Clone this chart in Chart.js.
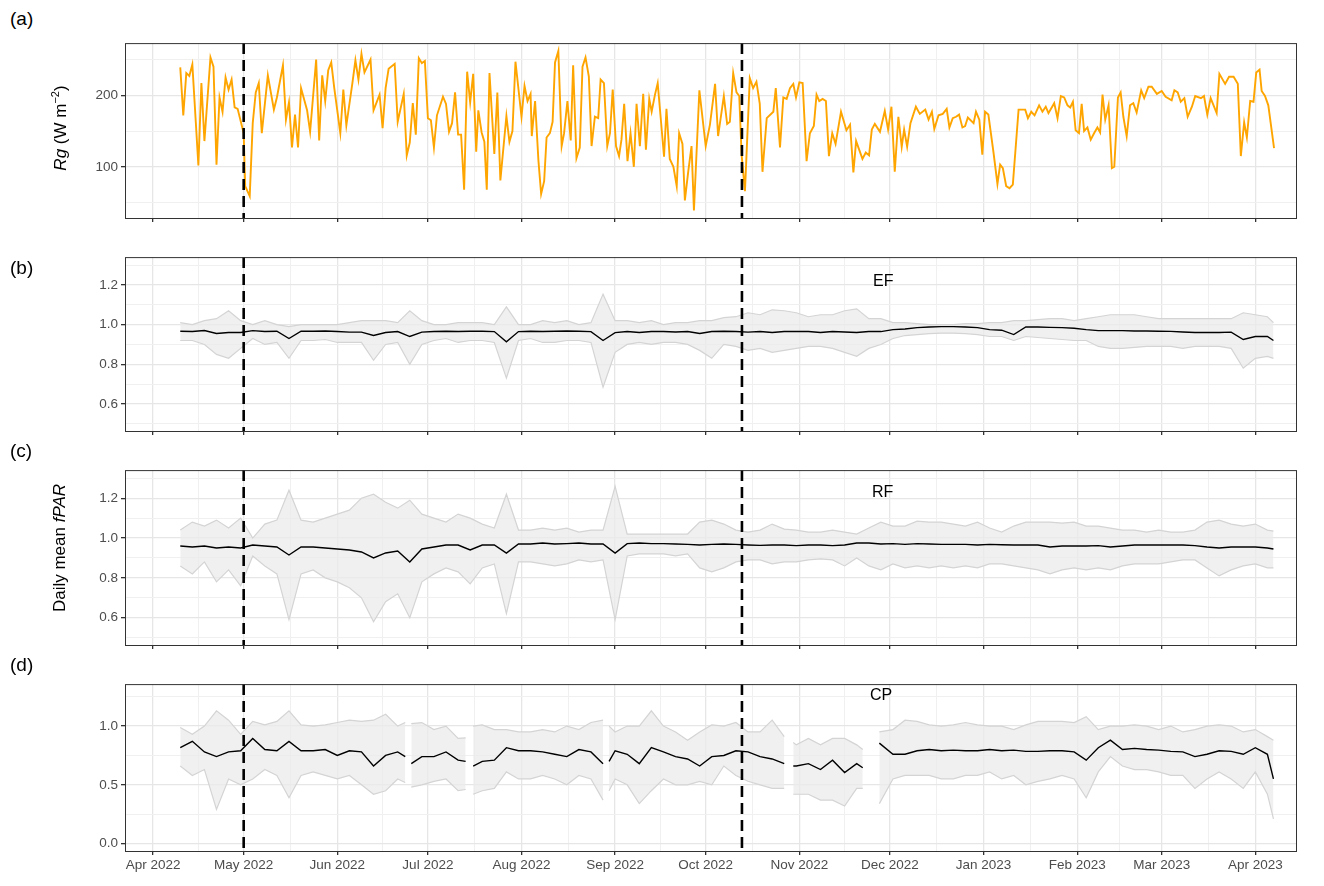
<!DOCTYPE html>
<html>
<head>
<meta charset="utf-8">
<script src="https://cdn.jsdelivr.net/npm/chart.js@4.4.0/dist/chart.umd.min.js"></script>
<style>
  body { margin: 0; background: #fff; font-family: "Liberation Sans", Arial, sans-serif; }
  #page { position: relative; width: 1324px; height: 886px; }
  .panel { position: absolute; left: 0; width: 1324px; }
  .tag { position: absolute; left: 10px; font-size: 19px; color: #000; }
  .site { position: absolute; font-size: 16px; color: #000; }
  .ytitle { position: absolute; font-size: 17px; color: #000; white-space: nowrap;
            transform: translate(-50%, -50%) rotate(-90deg); }
</style>
</head>
<body>
<div id="page">
  <div class="panel" id="pa" style="top:32px;height:211px"><canvas id="ca"></canvas></div>
  <div class="panel" id="pb" style="top:246px;height:210px"><canvas id="cb"></canvas></div>
  <div class="panel" id="pc" style="top:459px;height:211px"><canvas id="cc"></canvas></div>
  <div class="panel" id="pd" style="top:673px;height:213px"><canvas id="cd"></canvas></div>
  <div class="tag" style="top:8px">(a)</div>
  <div class="tag" style="top:257px">(b)</div>
  <div class="tag" style="top:440px">(c)</div>
  <div class="tag" style="top:654px">(d)</div>
  <div class="site" style="left:873px;top:272px">EF</div>
  <div class="site" style="left:872px;top:483px">RF</div>
  <div class="site" style="left:870px;top:686px">CP</div>
  <div class="ytitle" style="left:60px;top:128px"><i>Rg</i> (W m<sup style="font-size:11px">−2</sup>)</div>
  <div class="ytitle" style="left:60px;top:548px">Daily mean <i>fPAR</i></div>
</div>
<script>
// days counted from 1 Apr 2022
const monthDays = [0, 30, 61, 91, 122, 153, 183, 214, 244, 275, 306, 334, 365];
const monthLabels = ['Apr 2022', 'May 2022', 'Jun 2022', 'Jul 2022', 'Aug 2022', 'Sep 2022', 'Oct 2022',
    'Nov 2022', 'Dec 2022', 'Jan 2023', 'Feb 2023', 'Mar 2023', 'Apr 2023'];
const eventDays = [30, 195];

// (a) global radiation
const rgDay = [9, 10, 11, 12, 13, 15, 16, 17, 19, 20, 21, 22, 23, 24, 25, 26, 27, 28, 30, 30.5, 32, 33, 34, 35, 36, 38, 40, 41, 43, 44,
    45, 46, 47, 48, 49, 51, 52, 54, 55, 56, 57, 58, 59, 60, 62, 63, 64, 66, 67, 68, 69, 70, 72, 73, 75, 76, 77, 78, 80, 81,
    83, 84, 85, 86, 87, 88, 89, 90, 91, 92, 93, 94, 96, 97, 98, 99, 100, 101, 102, 103, 104, 105, 106, 107, 107.7, 108.8, 109.7, 110.5, 111.4, 113,
    114, 115, 117, 118, 119, 120, 122, 123, 124, 125, 125.4, 126.5, 127.6, 128.5, 129.5, 130.3, 131.4, 132.3, 133.1, 134.2, 135.3, 136.1, 137.2, 138.3, 139.1, 140.2, 141.3, 142.2, 143.2, 144.3,
    145.2, 146.3, 147.4, 148.2, 149.3, 150.4, 151.3, 152.2, 153.3, 154.3, 155.1, 156, 157.1, 158.1, 159.2, 160.1, 161.2, 162.3, 163.2, 164.3, 165.1, 166.2, 167.1, 169.2, 170, 171.1, 172.3, 173.4, 174.2, 175.3,
    176.1, 177.2, 178.3, 179.1, 180.9, 183, 184.4, 186.1, 187.1, 189, 190.1, 191, 192.1, 193.2, 194.1, 194.9, 196, 197.6, 198.7, 199.8, 200.9, 201.8, 203.2, 205.4, 206.2, 207.6, 208.7, 209.8, 210.9, 212,
    212.9, 214, 215.1, 216.4, 217.5, 218.8, 219.7, 220.6, 221.7, 222.8, 223.8, 224.9, 226, 227.8, 229.6, 230.8, 231.9, 232.8, 234.9, 236, 237.1, 238, 239, 240.7, 242.3, 243.4, 244.5, 245.6, 246.8, 247.9,
    248.7, 249.7, 250.8, 252.6, 253.9, 255.7, 256.8, 257.9, 258.7, 260.1, 261.5, 262.8, 263.7, 264.8, 265.9, 266.9, 268, 268.9, 269.8, 271.7, 272.5, 273.6, 274.6, 275.5, 276.6, 278.3, 279.6, 280.5, 281.4, 282.5,
    283.6, 284.7, 286.6, 288.8, 289.7, 290.8, 291.9, 293.4, 294.5, 295.6, 296.5, 298.4, 299.5, 300.6, 301.7, 302.8, 303.7, 304.6, 305.5, 306.6, 307.5, 308.3, 309.4, 310.5, 311.6, 312.7, 313.6, 314.4, 315.3, 316.4,
    317.5, 318.3, 319.5, 320.4, 321.3, 322.4, 323.5, 324.6, 325.7, 327.2, 328.2, 329.6, 330.7, 332.4, 334, 335.3, 337.3, 338.2, 339.3, 340.3, 341.5, 342.6, 344, 345.1, 347, 348, 349.1, 350.2, 352.2, 353.1,
    355, 356.3, 357.8, 359.2, 360.2, 361.3, 362.2, 363.3, 364.4, 365.3, 366.4, 367.1, 368.2, 369.3, 371.2];
const rgVal = [239, 172, 231, 227, 243, 102, 217, 136, 253, 240, 103, 197, 177, 225, 208, 222, 183, 181, 147, 73, 59, 161, 204, 217, 147, 228, 180, 197, 242, 166,
    190, 127, 173, 127, 210, 179, 149, 250, 137, 228, 192, 235, 246, 210, 147, 208, 158, 217, 249, 222, 258, 232, 250, 179, 201, 154, 210, 237, 244, 163,
    202, 116, 134, 189, 145, 252, 245, 248, 168, 165, 127, 172, 198, 188, 149, 161, 204, 145, 145, 68, 233, 190, 230, 121, 179, 148, 135, 68, 231, 118,
    204, 81, 171, 135, 150, 247, 170, 213, 192, 202, 143, 192, 109, 62, 80, 141, 147, 163, 246, 262, 129, 147, 192, 137, 242, 112, 127, 240, 253, 226,
    129, 170, 168, 222, 217, 129, 147, 208, 129, 115, 138, 188, 108, 147, 100, 188, 129, 202, 124, 195, 177, 201, 217, 114, 181, 111, 100, 73, 147, 132,
    53, 93, 129, 39, 207, 129, 159, 216, 143, 199, 160, 163, 231, 204, 199, 116, 66, 224, 210, 219, 188, 93, 168, 177, 210, 127, 197, 195, 210, 216,
    197, 218, 217, 108, 147, 157, 201, 192, 195, 192, 115, 147, 132, 177, 151, 159, 92, 136, 111, 120, 116, 152, 160, 149, 178, 152, 184, 93, 170, 128,
    152, 128, 161, 184, 174, 180, 166, 177, 153, 172, 174, 181, 155, 168, 170, 173, 155, 157, 169, 161, 177, 166, 117, 177, 173, 120, 76, 103, 98, 73,
    70, 75, 180, 180, 168, 177, 172, 186, 177, 184, 175, 189, 168, 199, 197, 186, 183, 191, 151, 147, 188, 150, 155, 138, 147, 155, 148, 201, 166, 186,
    98, 100, 197, 204, 170, 143, 186, 189, 176, 207, 196, 212, 212, 202, 206, 198, 193, 207, 204, 191, 196, 170, 184, 199, 196, 199, 173, 196, 175, 230,
    216, 226, 226, 216, 115, 162, 141, 192, 191, 232, 236, 206, 199, 186, 126];

// (b)-(c) daily mean fPAR with sensor spread
const gridDay = [9, 13, 17, 21, 25, 29, 33, 37, 41, 45, 49, 53, 57, 61, 65, 69, 73, 77, 81, 85, 89, 93, 97, 101, 105, 109, 113, 117, 121, 125,
    129, 133, 137, 141, 145, 149, 153, 157, 161, 165, 169, 173, 177, 181, 185, 189, 193, 197, 201, 205, 209, 213, 217, 221, 225, 229, 233, 237, 241, 245,
    249, 253, 257, 261, 265, 269, 273, 277, 281, 285, 289, 293, 297, 301, 305, 309, 313, 317, 321, 325, 329, 333, 337, 341, 345, 349, 353, 357, 361, 365,
    369, 371];

const efMean = [.967, .965, .97, .955, .96, .96, .97, .965, .967, .93, .967, .967, .968, .965, .962, .962, .945, .96, .965, .94, .962, .965, .967, .965, .967, .967, .965, .913, .965, .967,
    .965, .967, .968, .967, .965, .92, .96, .965, .96, .965, .965, .963, .965, .955, .965, .967, .965, .962, .965, .96, .965, .965, .965, .96, .965, .963, .96, .965, .965, .975,
    .978, .985, .988, .99, .99, .988, .985, .975, .972, .95, .988, .988, .986, .985, .982, .975, .97, .97, .97, .968, .968, .967, .966, .963, .96, .96, .96, .962, .925, .94,
    .94, .92];
const efLow = [.92, .92, .90, .85, .83, .88, .93, .90, .91, .83, .92, .92, .925, .91, .91, .91, .82, .90, .91, .80, .90, .92, .93, .91, .92, .92, .91, .73, .92, .93,
    .91, .91, .92, .92, .91, .684, .86, .90, .91, .90, .91, .91, .90, .87, .83, .90, .89, .87, .88, .86, .87, .88, .89, .89, .88, .86, .84, .88, .90, .93,
    .945, .95, .955, .957, .957, .955, .95, .94, .94, .92, .94, .935, .93, .925, .92, .92, .89, .88, .88, .885, .89, .89, .89, .88, .89, .89, .89, .88, .78, .83,
    .84, .83];
const efHigh = [1.01, 1.0, 1.02, 1.03, 1.07, 1.02, 1.0, 1.02, 1.0, .99, 1.0, 1.0, 1.0, 1.0, 1.01, 1.02, 1.02, 1.02, 1.01, 1.07, 1.02, 1.0, 1.0, 1.01, 1.01, 1.01, 1.0, 1.09, 1.0, 1.0,
    1.02, 1.01, 1.02, 1.0, 1.01, 1.154, 1.02, 1.02, 1.01, 1.02, 1.0, 1.01, 1.01, 1.02, 1.02, 1.035, 1.04, 1.06, 1.05, 1.075, 1.07, 1.06, 1.04, 1.05, 1.05, 1.07, 1.08, 1.03, 1.03, 1.01,
    1.01, 1.005, 1.0, 1.0, 1.0, 1.005, 1.005, 1.01, 1.01, 1.02, 1.02, 1.025, 1.03, 1.03, 1.02, 1.03, 1.04, 1.05, 1.05, 1.05, 1.04, 1.03, 1.03, 1.03, 1.03, 1.03, 1.03, 1.03, 1.06, 1.05,
    1.04, 1.01];

const rfMean = [.96, .955, .96, .95, .955, .95, .965, .96, .955, .915, .955, .955, .95, .945, .94, .93, .90, .925, .935, .88, .945, .955, .965, .965, .94, .965, .965, .924, .97, .97,
    .975, .97, .972, .975, .97, .97, .924, .972, .975, .972, .972, .97, .968, .965, .968, .97, .968, .965, .963, .965, .965, .962, .965, .965, .962, .965, .975, .975, .97, .972,
    .968, .972, .97, .968, .968, .968, .965, .968, .966, .965, .965, .965, .955, .96, .96, .96, .962, .955, .96, .965, .965, .965, .965, .965, .962, .955, .95, .955, .955, .955,
    .95, .945];
const rfLow = [.86, .82, .88, .78, .84, .76, .91, .86, .82, .59, .82, .84, .80, .78, .75, .70, .58, .68, .72, .60, .78, .82, .85, .83, .77, .85, .87, .62, .88, .88,
    .87, .86, .87, .89, .88, .89, .59, .91, .92, .92, .92, .91, .92, .85, .83, .85, .88, .89, .89, .87, .88, .88, .89, .895, .89, .86, .90, .86, .84, .87,
    .85, .86, .85, .86, .85, .86, .85, .87, .87, .86, .85, .84, .82, .84, .85, .84, .85, .84, .86, .87, .87, .87, .88, .89, .89, .85, .81, .84, .86, .87,
    .85, .85];
const rfHigh = [1.04, 1.08, 1.06, 1.09, 1.05, 1.10, 1.0, 1.07, 1.09, 1.24, 1.09, 1.08, 1.10, 1.12, 1.14, 1.20, 1.22, 1.18, 1.15, 1.19, 1.12, 1.10, 1.08, 1.12, 1.10, 1.07, 1.05, 1.22, 1.04, 1.04,
    1.05, 1.04, 1.05, 1.03, 1.04, 1.04, 1.26, 1.02, 1.02, 1.02, 1.02, 1.02, 1.02, 1.08, 1.09, 1.07, 1.04, 1.03, 1.04, 1.07, 1.045, 1.04, 1.03, 1.03, 1.04, 1.03, 1.02, 1.05, 1.08, 1.06,
    1.06, 1.085, 1.08, 1.08, 1.07, 1.06, 1.08, 1.05, 1.03, 1.06, 1.08, 1.08, 1.08, 1.075, 1.08, 1.06, 1.06, 1.05, 1.04, 1.04, 1.03, 1.04, 1.03, 1.03, 1.04, 1.08, 1.09, 1.07, 1.06, 1.07,
    1.04, 1.035];

// (d) CP, with gaps in the record (null = missing day)
const cpDay = [9, 13, 17, 21, 25, 29, 33, 37, 41, 45, 49, 53, 57, 61, 65, 69, 73, 77, 81, 83.5, 84.5, 85.5, 89, 93, 97, 101, 103.5, 104.8, 106, 109,
    113, 117, 121, 125, 129, 133, 137, 141, 145, 149, 150.3, 151, 153, 157, 161, 165, 169, 173, 177, 181, 185, 189, 193, 197, 201, 205, 209, 210.5, 212, 213,
    217, 221, 225, 229, 233, 235, 237.5, 240.5, 245, 249, 253, 257, 261, 265, 269, 273, 277, 281, 285, 289, 293, 297, 301, 305, 309, 313, 317, 321, 325, 329,
    333, 337, 341, 345, 349, 353, 357, 361, 365, 369, 371];
const cpMean = [.816, .87, .78, .74, .78, .79, .895, .80, .79, .87, .79, .79, .80, .75, .79, .78, .66, .75, .78, .74, null, .68, .74, .74, .78, .71, .70, null, .66, .70,
    .71, .816, .79, .79, .78, .76, .74, .80, .78, .68, null, .70, .79, .76, .68, .816, .78, .74, .72, .66, .74, .75, .79, .78, .74, .72, .68, null, .66, .66,
    .68, .63, .71, .605, .68, .645, null, .855, .76, .76, .79, .80, .79, .795, .79, .79, .80, .79, .795, .785, .785, .79, .79, .78, .71, .816, .88, .80, .81, .80,
    .795, .785, .78, .74, .76, .79, .785, .76, .816, .76, .55];
const cpLow = [.66, .58, .63, .29, .55, .50, .55, .63, .58, .39, .58, .61, .58, .55, .58, .50, .42, .45, .55, .52, null, .48, .50, .53, .55, .45, .46, null, .42, .45,
    .47, .61, .55, .55, .58, .55, .50, .58, .55, .37, null, .45, .55, .50, .34, .45, .55, .50, .50, .53, .50, .66, .58, .53, .50, .47, .47, null, .42, .42,
    .42, .37, .37, .32, .47, .47, null, .34, .55, .58, .58, .58, .55, .55, .58, .58, .61, .55, .58, .50, .53, .55, .58, .55, .39, .61, .74, .66, .63, .63,
    .61, .58, .58, .47, .55, .61, .55, .47, .61, .42, .21];
const cpHigh = [.987, .93, 1.0, 1.13, 1.05, .93, 1.04, 1.01, 1.04, 1.13, 1.01, 1.0, 1.01, 1.03, 1.05, 1.04, 1.05, 1.1, 1.0, 1.03, null, 1.02, 1.03, .97, 1.0, .895, .90, null, 1.0, 1.01,
    .97, .97, .95, .95, .97, .95, 1.0, .97, 1.03, 1.05, null, 1.0, .95, 1.0, 1.0, 1.13, 1.0, .95, .88, .95, 1.01, 1.0, 1.03, .95, .95, 1.05, .91, null, .86, .84,
    .895, .84, .895, .895, .84, .80, null, .95, .97, 1.05, 1.04, 1.01, 1.0, 1.01, 1.03, 1.01, 1.0, 1.0, .97, 1.01, 1.04, 1.04, 1.04, 1.03, 1.08, .97, 1.0, 1.0, 1.01, 1.0,
    .97, 1.0, .95, .97, 1.0, 1.01, 1.0, .95, .97, .91, .88];

const rgTicks = [50, 100, 150, 200, 250];
const rgLabels = [100, 200];
const fparTicks = [0.5, 0.6, 0.7, 0.8, 0.9, 1.0, 1.1, 1.2, 1.3];
const fparLabels = [0.6, 0.8, 1.0, 1.2];
const cpTicks = [0, 0.25, 0.5, 0.75, 1.0, 1.25];
const cpLabels = [0, 0.5, 1.0];

const pts = (xs, ys) => xs.map((x, i) => ({ x: x, y: ys[i] }));
const near = (v, list) => list.some(l => Math.abs(l - v) < 1e-6);

const xTicks = [];
monthDays.forEach((d, i) => {
    xTicks.push(d);
    if (i < monthDays.length - 1) xTicks.push((d + monthDays[i + 1]) / 2);
});

const framePlugin = {
    id: 'frame',
    afterDatasetsDraw(chart) {
        const { ctx, chartArea: a, scales: { x } } = chart;
        ctx.save();
        ctx.beginPath();
        ctx.rect(a.left, a.top, a.right - a.left, a.bottom - a.top);
        ctx.clip();
        ctx.strokeStyle = '#000';
        ctx.lineWidth = 2.6;
        ctx.setLineDash([11, 6]);
        eventDays.forEach(d => {
            const px = x.getPixelForValue(d);
            ctx.beginPath();
            ctx.moveTo(px, a.top);
            ctx.lineTo(px, a.bottom);
            ctx.stroke();
        });
        ctx.restore();
        ctx.save();
        ctx.strokeStyle = '#333';
        ctx.lineWidth = 1;
        ctx.strokeRect(a.left + 0.5, a.top + 0.5, a.right - a.left - 1, a.bottom - a.top);
        ctx.restore();
    }
};

function makePanel(id, datasets, ymin, ymax, yTicks, yLabels, yFmt, showX) {
    const majorX = v => near(v, monthDays);
    return new Chart(document.getElementById(id), {
        type: 'line',
        data: { datasets: datasets },
        plugins: [framePlugin],
        options: {
            responsive: true,
            maintainAspectRatio: false,
            animation: false,
            layout: { padding: { top: 5, right: 27, left: 0, bottom: 0 } },
            plugins: { legend: { display: false }, tooltip: { enabled: false } },
            elements: { point: { radius: 0 } },
            scales: {
                x: {
                    type: 'linear', min: -9.3, max: 378.8,
                    afterBuildTicks: s => { s.ticks = xTicks.map(v => ({ value: v })); },
                    afterFit: s => { s.height = showX ? 35 : 25; },
                    border: { display: false },
                    grid: {
                        color: c => majorX(c.tick.value) ? '#E6E6E6' : '#F0F0F0',
                        lineWidth: c => majorX(c.tick.value) ? 1.3 : 1,
                        tickColor: c => majorX(c.tick.value) ? '#333' : 'rgba(0,0,0,0)',
                        tickLength: 4
                    },
                    ticks: {
                        autoSkip: false, maxRotation: 0, padding: 2,
                        color: '#4D4D4D', font: { family: 'Liberation Sans', size: 13.5 },
                        callback: v => {
                            const i = monthDays.findIndex(d => Math.abs(d - v) < 1e-6);
                            return (showX && i >= 0) ? monthLabels[i] : '';
                        }
                    }
                },
                y: {
                    min: ymin, max: ymax,
                    afterBuildTicks: s => { s.ticks = yTicks.map(v => ({ value: v })); },
                    afterFit: s => { s.width = 125; },
                    border: { display: false },
                    grid: {
                        color: c => near(c.tick.value, yLabels) ? '#E6E6E6' : '#F0F0F0',
                        lineWidth: c => near(c.tick.value, yLabels) ? 1.3 : 1,
                        tickColor: c => near(c.tick.value, yLabels) ? '#333' : 'rgba(0,0,0,0)',
                        tickLength: 4
                    },
                    ticks: {
                        autoSkip: false, padding: 3,
                        color: '#4D4D4D', font: { family: 'Liberation Sans', size: 13.5 },
                        callback: v => near(v, yLabels) ? yFmt(v) : ''
                    }
                }
            }
        }
    });
}

// the first dataset is painted last, so the mean line goes first
function bandSets(xs, lo, hi, mean) {
    return [
        { data: pts(xs, mean), borderColor: '#000', borderWidth: 1.4, fill: false, spanGaps: false },
        { data: pts(xs, lo), borderColor: '#D4D4D4', borderWidth: 1.2, fill: false, spanGaps: false },
        { data: pts(xs, hi), borderColor: '#D4D4D4', borderWidth: 1.2, backgroundColor: 'rgba(235,235,235,0.75)', fill: '-1', spanGaps: false }
    ];
}

makePanel('ca', [{ data: pts(rgDay, rgVal), borderColor: '#FFA500', borderWidth: 1.9, fill: false }],
    28.4, 273, rgTicks, rgLabels, v => String(v), false);
makePanel('cb', bandSets(gridDay, efLow, efHigh, efMean), 0.463, 1.341, fparTicks, fparLabels, v => v.toFixed(1), false);
makePanel('cc', bandSets(gridDay, rfLow, rfHigh, rfMean), 0.463, 1.341, fparTicks, fparLabels, v => v.toFixed(1), false);
makePanel('cd', bandSets(cpDay, cpLow, cpHigh, cpMean), -0.063, 1.357, cpTicks, cpLabels, v => v.toFixed(1), true);
</script>
</body>
</html>
